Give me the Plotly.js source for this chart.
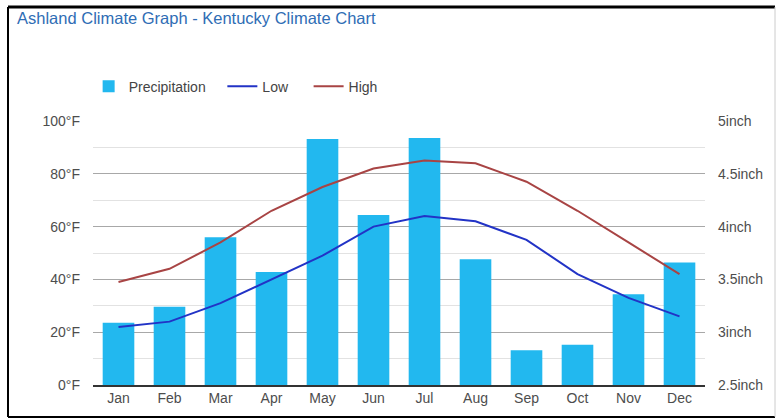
<!DOCTYPE html>
<html>
<head>
<meta charset="utf-8">
<script src="https://cdn.plot.ly/plotly-3.0.1.min.js"></script>
<style>html,body{margin:0;padding:0;background:#fff;}#chart{width:776px;height:420px;}</style>
</head>
<body>
<div id="chart"></div>
<script>
var months = ["Jan","Feb","Mar","Apr","May","Jun","Jul","Aug","Sep","Oct","Nov","Dec"];
var precipitation = [3.09, 3.24, 3.90, 3.57, 4.83, 4.11, 4.84, 3.69, 2.83, 2.88, 3.36, 3.66];
var low = [22, 24, 31, 40, 49, 60, 64, 62, 55, 42, 33, 26];
var high = [39, 44, 54, 66, 75, 82, 85, 84, 77, 66, 54, 42];
var tempTicks = [0, 20, 40, 60, 80, 100];
var tempLabels = ["0°F","20°F","40°F","60°F","80°F","100°F"];
var rainTicks = [2.5, 3, 3.5, 4, 4.5, 5];
var rainLabels = ["2.5inch","3inch","3.5inch","4inch","4.5inch","5inch"];

var traces = [
  {type:"bar", name:"Precipitation\u00a0\u00a0\u00a0", x:months, y:precipitation.map(function(v){return v-2.5;}), base:2.5, yaxis:"y",
   marker:{color:"#22b8ef"}, width:0.62},
  {type:"scatter", mode:"lines", name:"Low\u00a0\u00a0\u00a0\u00a0", x:months, y:low, yaxis:"y2", line:{color:"#2233c6", width:2}},
  {type:"scatter", mode:"lines", name:"High", x:months, y:high, yaxis:"y2", line:{color:"#a84444", width:2}}
];

var tickFont = {family:"Liberation Sans, Arial, sans-serif", size:14, color:"#4d4d4d"};
var layout = {
  width:776, height:420,
  margin:{l:93, r:71, t:121, b:35},
  paper_bgcolor:"#fff", plot_bgcolor:"#fff",
  title:{text:"Ashland Climate Graph - Kentucky Climate Chart", x:17/776, xanchor:"left", y:1-18/420, yanchor:"middle",
    font:{family:"Liberation Sans, Arial, sans-serif", size:16.5, color:"#2f6db5"}},
  showlegend:true,
  legend:{orientation:"h", x:-0.03 + 14/612, xanchor:"left", y:1.13, yanchor:"middle",
    font:{family:"Liberation Sans, Arial, sans-serif", size:14, color:"#444"}, traceorder:"normal"},
  xaxis:{type:"category", showgrid:false, showline:true, linecolor:"#333", linewidth:1.5, ticks:"", tickfont:tickFont, fixedrange:true},
  yaxis:{range:[2.5,5], side:"right", tickvals:rainTicks, ticktext:rainLabels, showgrid:true, gridcolor:"#a8a8a8", gridwidth:1,
    minor:{dtick:0.25, tick0:2.5, showgrid:true, gridcolor:"#e2e2e2", gridwidth:1},
    zeroline:false, ticks:"", ticklabelstandoff:12, tickfont:tickFont, showline:false},
  yaxis2:{range:[0,100], overlaying:"y", side:"left", tickvals:tempTicks, ticktext:tempLabels, showgrid:false,
    zeroline:false, ticks:"", ticklabelstandoff:12, tickfont:tickFont, showline:false},
  shapes:[
    {type:"line", xref:"paper", yref:"paper", x0:(8-93)/612, x1:(775-93)/612, y0:(385-7)/264, y1:(385-7)/264, line:{color:"#000", width:3}},
    {type:"line", xref:"paper", yref:"paper", x0:(8-93)/612, x1:(775-93)/612, y0:(385-417)/264, y1:(385-417)/264, line:{color:"#000", width:2}},
    {type:"line", xref:"paper", yref:"paper", x0:(8-93)/612, x1:(8-93)/612, y0:(385-417)/264, y1:(385-7)/264, line:{color:"#000", width:2}},
    {type:"line", xref:"paper", yref:"paper", x0:(775-93)/612, x1:(775-93)/612, y0:(385-417)/264, y1:(385-7)/264, line:{color:"#ccc", width:1}}
  ]
};
Plotly.newPlot("chart", traces, layout, {displayModeBar:false, staticPlot:true});
</script>
</body>
</html>
